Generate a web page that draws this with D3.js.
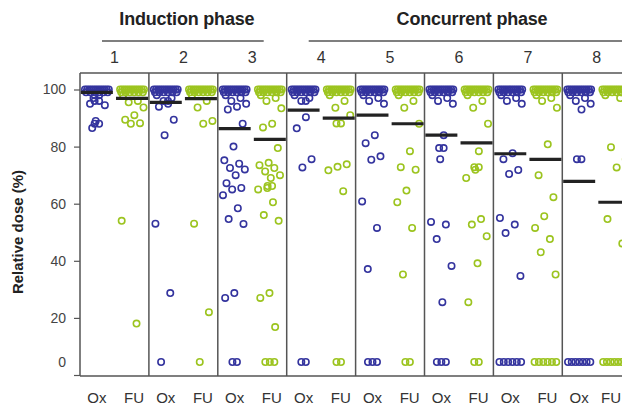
<!DOCTYPE html>
<html>
<head>
<meta charset="utf-8">
<script src="https://cdn.jsdelivr.net/npm/d3@7"></script>
<style>
  body { margin: 0; background: #fff; }
  text { font-family: "Liberation Sans", Arial, sans-serif; }
</style>
</head>
<body>
<script>
var cycles = ["1", "2", "3", "4", "5", "6", "7", "8"];
var drugs = ["Ox", "FU"];
var phases = [
    {name: "Induction phase", from: "1", to: "3"},
    {name: "Concurrent phase", from: "4", to: "8"}
];
var yTicks = [0, 20, 40, 60, 80, 100];

function rep(v, n) { var a = []; for (var i = 0; i < n; i++) a.push(v); return a; }

// relative dose per patient (dense group at full dose)
var full = rep(100, 12).concat(rep(99, 6));
var oxValues = [
    full.concat([98, 98, 97, 96, 96, 95, 94.5, 89, 88, 88, 86.5]),
    full.concat([98, 97, 96, 96, 95, 94, 89.4, 84, 53, 28.7, 0]),
    full.concat([98, 97, 96, 95, 94, 93, 88, 80, 75.2, 74, 72.5, 72, 70, 67.2, 65.5, 65, 63, 58.4, 54.6, 52.9, 28.7, 27, 0, 0]),
    full.concat([98, 97, 96, 96, 90.3, 86.4, 75.6, 72.7, 0, 0]),
    full.concat([98, 97, 96, 95, 84, 81.2, 76.6, 75.4, 60.8, 51.5, 37.1, 0, 0, 0]),
    full.concat([98, 97, 96, 95, 84, 79.5, 79.5, 75.6, 53.6, 52.7, 47.6, 38.2, 25.5, 0, 0, 0]),
    full.concat([98, 97, 96, 95, 77.7, 75.6, 71.8, 70.4, 55, 52.7, 49.7, 34.7]).concat(rep(0, 6)),
    full.concat([98, 97, 96, 95, 93, 75.6, 75.6]).concat(rep(0, 7))
];
var fuValues = [
    full.concat([98, 96, 95.5, 93.7, 91, 89.4, 88.2, 88, 54, 18]),
    full.concat([98, 96, 93.7, 89, 88, 53, 22, 0]),
    full.concat([98, 97, 96, 93.4, 88, 86.7, 79.5, 74.3, 73.5, 72.5, 71.3, 70, 69, 66.2, 66.2, 65.5, 65, 60.5, 56, 54, 28.7, 27, 16.8, 0, 0, 0]),
    full.concat([98, 96, 93.6, 91, 88.1, 88.1, 73.8, 72.9, 71.7, 64.4, 0, 0]),
    full.concat([98, 96, 93.6, 88, 78.4, 72.8, 71.9, 64.6, 60.5, 51.5, 35.2, 0, 0]),
    full.concat([98, 96, 93.6, 88, 78.4, 72.8, 72.8, 71.9, 69, 54.6, 52.7, 48.6, 39.1, 25.5, 0, 0]),
    full.concat([98, 97, 96, 93.6, 80.8, 70, 62.3, 55.6, 51.5, 47.6, 43, 35.2]).concat(rep(0, 6)),
    full.concat([98, 97, 79.8, 75.6, 72.7, 54.6, 46.1]).concat(rep(0, 7))
];
var oxMeans = [99, 95.5, 86.3, 92.8, 91, 84, 77.5, 67.8];
var fuMeans = [96.9, 96.8, 82.5, 90, 88, 81.3, 75.5, 60.5];

var width = 622, height = 408;
var plotLeft = 80, plotTop = 73, plotBottom = 376;
var colors = {Ox: "#34349e", FU: "#9cc41f"};
var zeroLift = 13; // zero doses are drawn a little above the baseline

var svg = d3.select("body").append("svg")
    .attr("width", width)
    .attr("height", height);

var x = d3.scaleBand()
    .domain(cycles)
    .range([plotLeft, plotLeft + 8 * 68.9])
    .padding(0);

var xi = d3.scalePoint()
    .domain(drugs)
    .range([0, x.bandwidth()])
    .padding(0.48);

var y = d3.scaleLinear()
    .domain([0, 100])
    .range([plotBottom - 1, 89.5]);

// frame
svg.append("line")
    .attr("x1", plotLeft).attr("x2", width)
    .attr("y1", plotTop).attr("y2", plotTop)
    .attr("stroke", "#555").attr("stroke-width", 1.5);
svg.append("line")
    .attr("x1", plotLeft).attr("x2", width)
    .attr("y1", plotBottom).attr("y2", plotBottom)
    .attr("stroke", "#555").attr("stroke-width", 1.5);
svg.selectAll(".divider")
    .data(cycles)
    .enter().append("line")
    .attr("class", "divider")
    .attr("x1", (d) => x(d)).attr("x2", (d) => x(d))
    .attr("y1", plotTop).attr("y2", plotBottom)
    .attr("stroke", "#555").attr("stroke-width", 1.5);

// y axis
var yAxis = d3.axisLeft(y).tickValues(yTicks).tickSize(6).tickPadding(8);
var ga = svg.append("g")
    .attr("transform", "translate(" + plotLeft + ",0)")
    .call(yAxis);
ga.select(".domain").remove();
ga.selectAll("line").attr("stroke", "#555").attr("stroke-width", 1.2);
ga.selectAll("text")
    .attr("font-size", "14px")
    .attr("fill", "#444")
    .attr("font-family", "Liberation Sans, Arial, sans-serif")
    .attr("dy", (d) => d === 0 ? (0.32 - zeroLift / 14) + "em" : "0.32em");

svg.append("text")
    .attr("transform", "translate(23," + 232 + ") rotate(-90)")
    .attr("text-anchor", "middle")
    .attr("font-size", "15px")
    .attr("font-weight", "bold")
    .attr("fill", "#222")
    .text("Relative dose (%)");

// phase headers
phases.forEach((p) => {
    var x0 = x(p.from) + 22;
    var x1 = p.to === "8" ? width : x(p.to) + x.bandwidth() - 23;
    svg.append("line")
        .attr("x1", x0).attr("x2", x1)
        .attr("y1", 41).attr("y2", 41)
        .attr("stroke", "#555").attr("stroke-width", 1.5);
    svg.append("text")
        .attr("x", p.to === "8" ? 472 : (x0 + x1) / 2 + 4)
        .attr("y", 25)
        .attr("text-anchor", "middle")
        .attr("font-size", "18px")
        .attr("font-weight", "bold")
        .attr("letter-spacing", "-0.2px")
        .attr("fill", "#222")
        .text(p.name);
});

svg.selectAll(".cycle")
    .data(cycles)
    .enter().append("text")
    .attr("class", "cycle")
    .attr("x", (d) => x(d) + x.bandwidth() / 2)
    .attr("y", 63)
    .attr("text-anchor", "middle")
    .attr("font-size", "16px")
    .attr("fill", "#333")
    .text((d) => d);

// drug labels
cycles.forEach((c) => {
    drugs.forEach((dr) => {
        svg.append("text")
            .attr("x", Math.min(x(c) + xi(dr) + (dr === "FU" ? 2 : 0), width - 11))
            .attr("y", 403)
            .attr("text-anchor", "middle")
            .attr("font-size", "15px")
            .attr("fill", "#333")
            .text(dr);
    });
});

// points with deterministic jitter
var pts = [];
cycles.forEach((c, ci) => {
    [["Ox", oxValues[ci]], ["FU", fuValues[ci]]].forEach((pair) => {
        var dr = pair[0], vals = pair[1];
        var groups = d3.group(vals, (v) => v);
        var k = 0;
        groups.forEach((arr, v) => {
            var n = arr.length;
            arr.forEach((_, j) => {
                var off;
                if (n > 1) {
                    var sp = Math.min(4.5, 26 / n);
                    off = (j - (n - 1) / 2) * sp;
                } else {
                    off = (((k * 0.618034) % 1) - 0.5) * 24;
                }
                k++;
                pts.push({cycle: c, drug: dr, value: v, off: off});
            });
        });
    });
});

svg.selectAll(".pt")
    .data(pts)
    .enter().append("circle")
    .attr("class", "pt")
    .attr("cx", (d) => x(d.cycle) + xi(d.drug) + d.off)
    .attr("cy", (d) => y(d.value) - (d.value === 0 ? zeroLift : 0))
    .attr("r", 3.2)
    .attr("fill", "none")
    .attr("stroke", (d) => colors[d.drug])
    .attr("stroke-width", 1.6);

// mean bars
var means = [];
cycles.forEach((c, ci) => {
    means.push({cycle: c, drug: "Ox", value: oxMeans[ci]});
    means.push({cycle: c, drug: "FU", value: fuMeans[ci]});
});
svg.selectAll(".mean")
    .data(means)
    .enter().append("line")
    .attr("class", "mean")
    .attr("x1", (d) => x(d.cycle) + xi(d.drug) - 16)
    .attr("x2", (d) => x(d.cycle) + xi(d.drug) + 16)
    .attr("y1", (d) => y(d.value))
    .attr("y2", (d) => y(d.value))
    .attr("stroke", "#222")
    .attr("stroke-width", 3.2);
</script>
</body>
</html>
